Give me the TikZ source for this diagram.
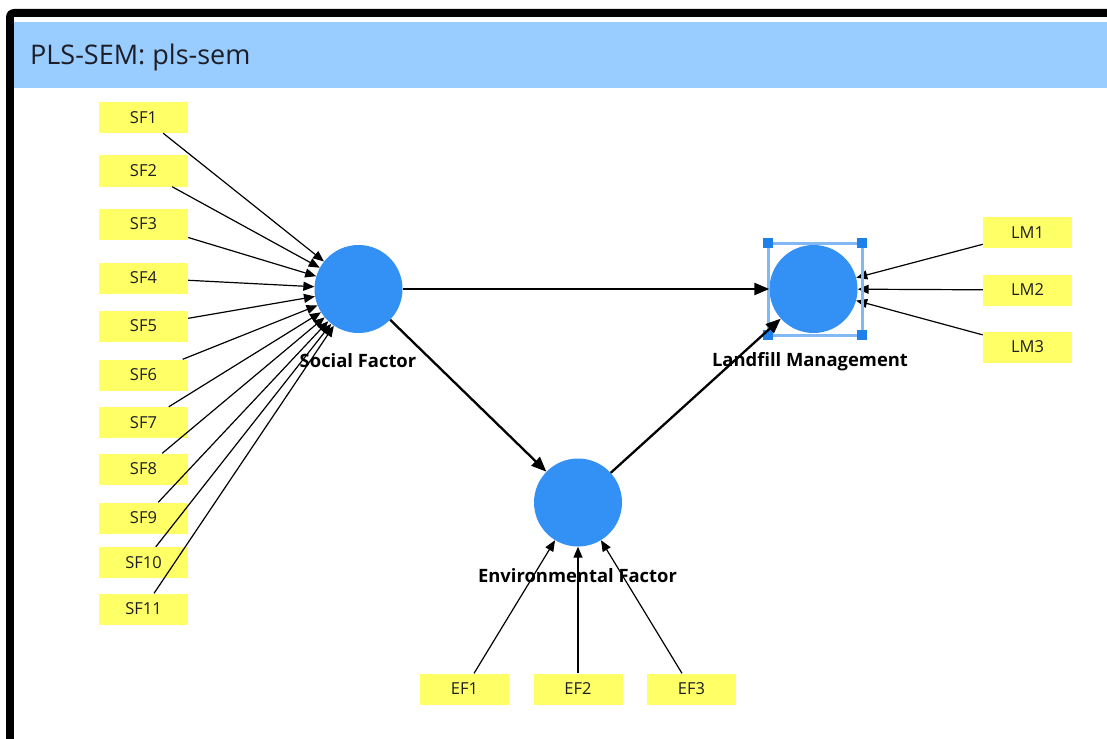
\documentclass[tikz,border=0pt]{standalone}
\usepackage{fontspec}
\setmainfont{Open Sans}
\usetikzlibrary{arrows.meta}
\definecolor{hdr}{RGB}{153,204,255}
\definecolor{indy}{RGB}{255,255,102}
\definecolor{latb}{RGB}{51,145,245}
\definecolor{selc}{RGB}{130,185,245}
\definecolor{hndc}{RGB}{30,128,232}
\definecolor{txt}{RGB}{30,30,40}
\begin{document}
\begin{tikzpicture}[x=1pt,y=-1pt,
  ind/.style={fill=indy, minimum width=89pt, minimum height=31pt, inner sep=0pt, text=txt, font=\fontsize{16.5}{16.5}\selectfont},
  lat/.style={circle, fill=latb, minimum size=88pt, inner sep=0pt},
  lab/.style={anchor=base, font=\bfseries\fontsize{18.4}{18.4}\selectfont},
  iarr/.style={-{Triangle[length=11pt,width=9pt]}, line width=1.2pt},
  sarr/.style={-{Triangle[length=15pt,width=12pt]}, line width=2.3pt},
  hnd/.style={fill=hndc, minimum size=10pt, inner sep=0pt}]
\useasboundingbox (0,0) rectangle (1107,738);
\clip (0,0) rectangle (1107,738);
% frame
\fill[black, rounded corners=8pt] (6,9) rectangle (1150,790);
\fill[white] (14,17) rectangle (1150,790);
\fill[hdr] (14,22) rectangle (1150,88);
\node[anchor=base west, inner sep=0pt, text=txt, font=\fontsize{27}{27}\selectfont] (title) at (30,65) {PLS-SEM: pls-sem};
% latent variables
\node[lat] (SF) at (358.5,289) {};
\node[lat] (LM) at (813.5,289) {};
\node[lat] (EF) at (578,502.5) {};
% indicators
\node[ind] (SF1) at (143.5,117.5) {SF1};
\node[ind] (SF2) at (143.5,171) {SF2};
\node[ind] (SF3) at (143.5,224) {SF3};
\node[ind] (SF4) at (143.5,278) {SF4};
\node[ind] (SF5) at (143.5,326) {SF5};
\node[ind] (SF6) at (143.5,375) {SF6};
\node[ind] (SF7) at (143.5,422.5) {SF7};
\node[ind] (SF8) at (143.5,469) {SF8};
\node[ind] (SF9) at (143.5,518) {SF9};
\node[ind] (SF10) at (143.5,562.5) {SF10};
\node[ind] (SF11) at (143.5,609) {SF11};
\node[ind] (LM1) at (1027.5,232.5) {LM1};
\node[ind] (LM2) at (1027.5,290) {LM2};
\node[ind] (LM3) at (1027.5,347) {LM3};
\node[ind] (EF1) at (464.5,689) {EF1};
\node[ind] (EF2) at (578,689) {EF2};
\node[ind] (EF3) at (691.5,689) {EF3};
% indicator arrows
\foreach \i in {1,...,11} {\draw[iarr] (SF\i) -- (SF);}
\foreach \i in {1,2,3} {\draw[iarr] (LM\i) -- (LM);}
\foreach \i in {1,2,3} {\draw[iarr] (EF\i) -- (EF);}
% selection box
\draw[selc, line width=3pt] (768,243) rectangle (862,335);
\node[hnd] (h1) at (767.5,243) {};
\node[hnd] (h2) at (861.5,243) {};
\node[hnd] (h3) at (767.5,335) {};
\node[hnd] (h4) at (861.5,335) {};
% structural arrows
\draw[sarr] (SF) -- (LM);
\draw[sarr] (SF) -- (EF);
\draw[sarr] (EF) -- (LM);
% labels
\node[lab] (SFl) at (358,367) {Social Factor};
\node[lab] (LMl) at (810,366) {Landfill Management};
\node[lab] (EFl) at (577.5,582) {Environmental Factor};
\end{tikzpicture}
\end{document}
